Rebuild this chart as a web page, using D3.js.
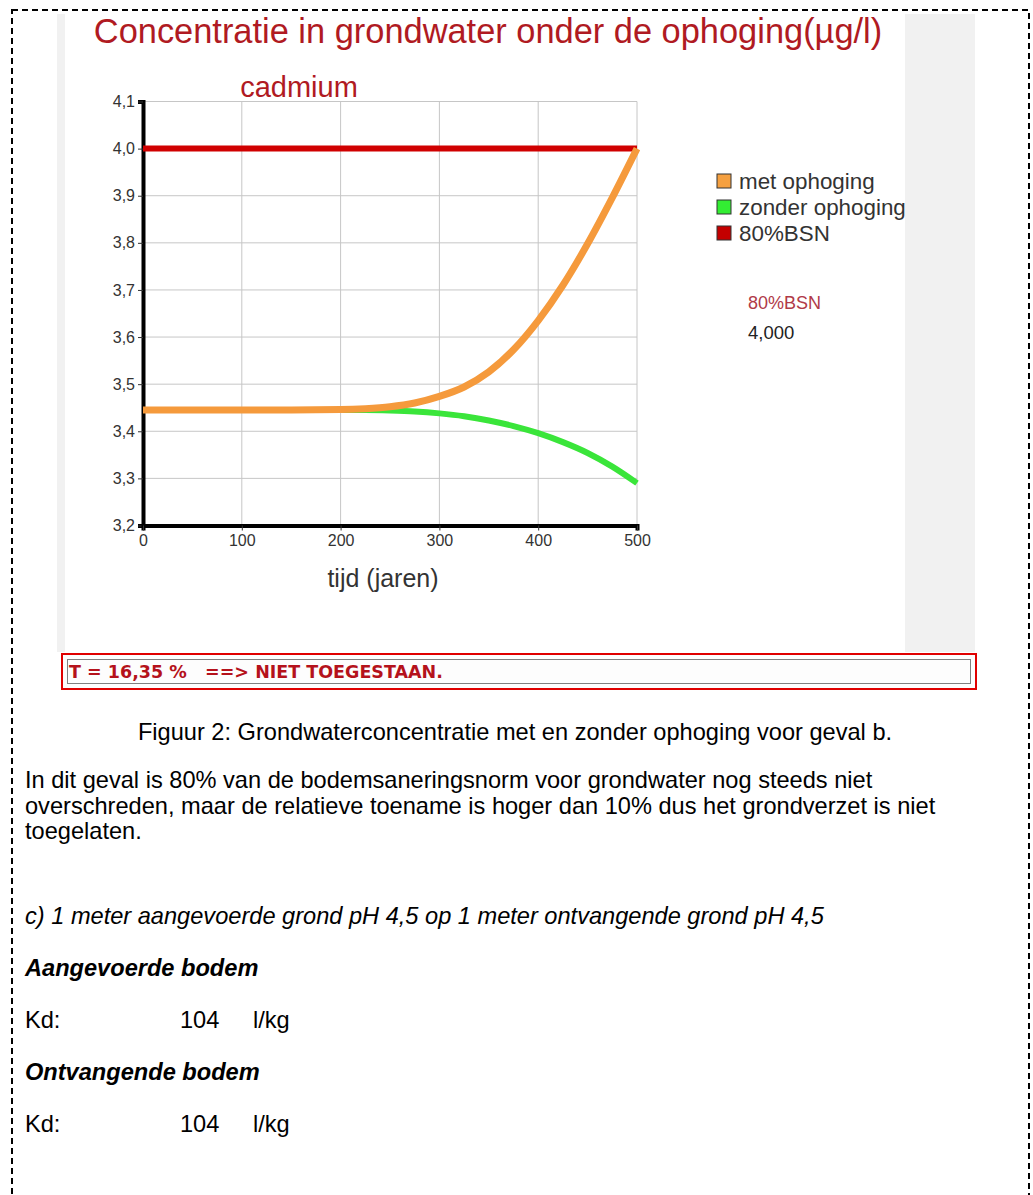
<!DOCTYPE html>
<html lang="nl">
<head>
<meta charset="UTF-8">
<title>Concentratie in grondwater</title>
<script src="https://d3js.org/d3.v7.min.js"></script>
<style>
  body { margin: 0; background: #fff; }
  svg text { font-family: "Liberation Sans", Arial, sans-serif; }
</style>
</head>
<body>
<svg id="page" width="1033" height="1195"></svg>
<script>
// data
const years = [0, 50, 100, 150, 200, 225, 250, 275, 300, 325, 350, 375, 400, 425, 450, 475, 500];
const metOphoging = [3.445, 3.445, 3.445, 3.445, 3.446, 3.448, 3.452, 3.460, 3.474, 3.494, 3.526, 3.573, 3.635, 3.710, 3.798, 3.896, 4.0];
const zonderOphoging = [3.445, 3.445, 3.445, 3.445, 3.445, 3.445, 3.444, 3.442, 3.438, 3.432, 3.423, 3.411, 3.396, 3.377, 3.354, 3.325, 3.29];
const bsnYears = [0, 500];
const bsnValues = [4.0, 4.0];
const xTicks = [0, 100, 200, 300, 400, 500];
const yTicks = [3.2, 3.3, 3.4, 3.5, 3.6, 3.7, 3.8, 3.9, 4.0, 4.1];
const legendLabels = ["met ophoging", "zonder ophoging", "80%BSN"];
const legendColors = ["#f5a040", "#33ee33", "#c40000"];
const bsnLabel = "80%BSN";
const bsnText = "4,000";
const verdict = "T = 16,35 %   ==> NIET TOEGESTAAN.";
const caption = "Figuur 2: Grondwaterconcentratie met en zonder ophoging voor geval b.";
const paraLines = [
  "In dit geval is 80% van de bodemsaneringsnorm voor grondwater nog steeds niet",
  "overschreden, maar de relatieve toename is hoger dan 10% dus het grondverzet is niet",
  "toegelaten."
];

const svg = d3.select("#page");
const bodySize = 23.6;

// dashed frame around the whole fragment
svg.append("rect")
  .attr("x", 12).attr("y", 10)
  .attr("width", 1017).attr("height", 1230)
  .attr("fill", "none")
  .attr("stroke", "#000")
  .attr("stroke-width", 2)
  .attr("stroke-dasharray", "6,4");

// screenshot background: grey bands left and right
svg.append("rect").attr("x", 57).attr("y", 14).attr("width", 918).attr("height", 638).attr("fill", "#f1f1f1");
svg.append("rect").attr("x", 65).attr("y", 14).attr("width", 840).attr("height", 638).attr("fill", "#fff");

svg.append("text")
  .attr("x", 488).attr("y", 43)
  .attr("text-anchor", "middle")
  .attr("font-size", 34.4)
  .attr("fill", "#b01a22")
  .text("Concentratie in grondwater onder de ophoging(µg/l)");

svg.append("text")
  .attr("x", 299).attr("y", 97)
  .attr("text-anchor", "middle")
  .attr("font-size", 29)
  .attr("fill", "#b01a22")
  .text("cadmium");

// scales
const x = d3.scaleLinear().domain([0, 500]).range([143, 637]);
const y = d3.scaleLinear().domain([3.2, 4.1]).range([525.5, 101.5]);
const fmt = d => d3.format(".1f")(d).replace(".", ",");

const plot = svg.append("g");

// grid
plot.selectAll(".hgrid").data(yTicks.slice(1)).enter().append("line")
  .attr("x1", x(0)).attr("x2", x(500))
  .attr("y1", d => y(d)).attr("y2", d => y(d))
  .attr("stroke", "#c6c6c6").attr("stroke-width", 1);
plot.selectAll(".vgrid").data(xTicks.slice(1)).enter().append("line")
  .attr("x1", d => x(d)).attr("x2", d => x(d))
  .attr("y1", y(4.1)).attr("y2", y(3.2))
  .attr("stroke", "#c6c6c6").attr("stroke-width", 1);

// axes
const yAxis = plot.append("g")
  .attr("transform", `translate(${x(0)},0)`)
  .call(d3.axisLeft(y).tickValues(yTicks).tickFormat(fmt).tickSize(5).tickPadding(3));
const xAxis = plot.append("g")
  .attr("transform", `translate(0,${y(3.2)})`)
  .call(d3.axisBottom(x).tickValues(xTicks).tickFormat(d3.format("d")).tickSize(5).tickPadding(4));
[yAxis, xAxis].forEach(a => {
  a.select(".domain").attr("stroke", "#000").attr("stroke-width", 4);
  a.selectAll(".tick line").attr("stroke", "#333");
  a.selectAll(".tick text")
    .attr("font-size", 16)
    .attr("fill", "#333")
    .style("font-family", "'Liberation Sans', Arial, sans-serif");
});

svg.append("text")
  .attr("x", 383).attr("y", 587)
  .attr("text-anchor", "middle")
  .attr("font-size", 25)
  .attr("fill", "#333")
  .text("tijd (jaren)");

// lines
const line = d3.line().x(d => x(d[0])).y(d => y(d[1])).curve(d3.curveMonotoneX);

plot.append("path")
  .datum(d3.zip(bsnYears, bsnValues))
  .attr("d", line)
  .attr("fill", "none")
  .attr("stroke", "#d00000")
  .attr("stroke-width", 6);

plot.append("path")
  .datum(d3.zip(years, zonderOphoging))
  .attr("d", line)
  .attr("fill", "none")
  .attr("stroke", "#3ae53a")
  .attr("stroke-width", 6);

plot.append("path")
  .datum(d3.zip(years, metOphoging))
  .attr("d", line)
  .attr("fill", "none")
  .attr("stroke", "#f59a3c")
  .attr("stroke-width", 7);

// legend
const leg = svg.append("g").attr("transform", "translate(717,189)");
const item = leg.selectAll("g").data(legendLabels).enter().append("g")
  .attr("transform", (d, i) => `translate(0,${i * 26})`);
item.append("rect")
  .attr("x", 0).attr("y", -15)
  .attr("width", 14).attr("height", 14)
  .attr("fill", (d, i) => legendColors[i])
  .attr("stroke", "#333").attr("stroke-width", 1);
item.append("text")
  .attr("x", 22).attr("y", 0)
  .attr("font-size", 22.4)
  .attr("fill", "#333")
  .text(d => d);

svg.append("text")
  .attr("x", 748).attr("y", 309)
  .attr("font-size", 18)
  .attr("fill", "#b03a48")
  .text(bsnLabel);
svg.append("text")
  .attr("x", 748).attr("y", 339)
  .attr("font-size", 18.5)
  .attr("fill", "#222")
  .text(bsnText);

// verdict box
svg.append("rect")
  .attr("x", 62).attr("y", 654).attr("width", 914).attr("height", 35)
  .attr("fill", "#fdfdfd").attr("stroke", "#e00000").attr("stroke-width", 2);
svg.append("rect")
  .attr("x", 67.5).attr("y", 659.5).attr("width", 903).attr("height", 24)
  .attr("fill", "none").attr("stroke", "#808080").attr("stroke-width", 1);
svg.append("text")
  .attr("x", 69).attr("y", 678)
  .attr("font-size", 17.5)
  .attr("font-weight", "bold")
  .attr("fill", "#b5121b")
  .style("font-family", "'DejaVu Sans', Verdana, sans-serif")
  .style("white-space", "pre")
  .text(verdict);

// document text below the figure
svg.append("text")
  .attr("x", 515).attr("y", 740)
  .attr("text-anchor", "middle")
  .attr("font-size", bodySize)
  .attr("fill", "#000")
  .text(caption);

svg.selectAll(".para").data(paraLines).enter().append("text")
  .attr("x", 25).attr("y", (d, i) => 788 + i * 25.5)
  .attr("font-size", bodySize)
  .attr("fill", "#000")
  .text(d => d);

svg.append("text")
  .attr("x", 25).attr("y", 924)
  .attr("font-size", bodySize).attr("font-style", "italic")
  .text("c) 1 meter aangevoerde grond pH 4,5 op 1 meter ontvangende grond pH 4,5");

svg.append("text")
  .attr("x", 25).attr("y", 976)
  .attr("font-size", bodySize).attr("font-style", "italic").attr("font-weight", "bold")
  .text("Aangevoerde bodem");

svg.append("text")
  .attr("x", 25).attr("y", 1080)
  .attr("font-size", bodySize).attr("font-style", "italic").attr("font-weight", "bold")
  .text("Ontvangende bodem");

[1028, 1132].forEach(by => {
  svg.append("text").attr("x", 25).attr("y", by).attr("font-size", bodySize).text("Kd:");
  svg.append("text").attr("x", 180).attr("y", by).attr("font-size", bodySize).text("104");
  svg.append("text").attr("x", 253).attr("y", by).attr("font-size", bodySize).text("l/kg");
});
</script>
</body>
</html>
